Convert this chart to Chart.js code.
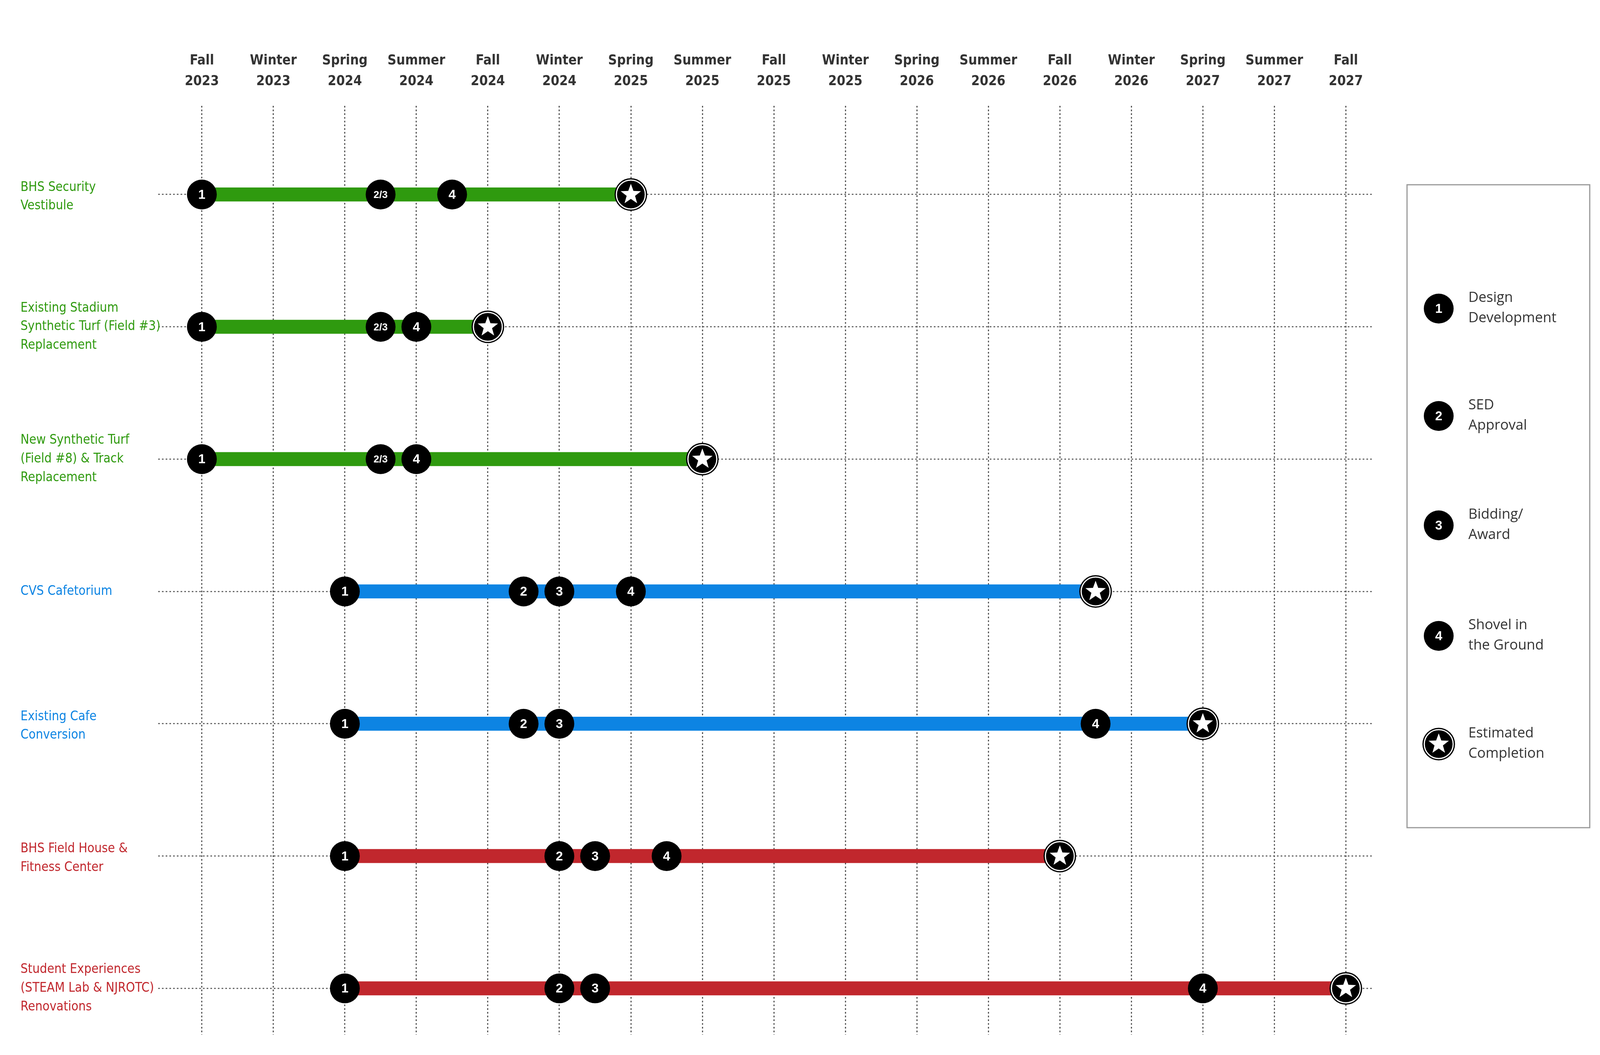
<!DOCTYPE html>
<html><head><meta charset="utf-8">
<script src="https://cdn.jsdelivr.net/npm/chart.js@4"></script>
<style>html,body{margin:0;padding:0;background:#fff;overflow:hidden}canvas{display:block}</style>
</head><body>
<canvas id="c"></canvas>
<script>
const periods = [["Fall","2023"],["Winter","2023"],["Spring","2024"],["Summer","2024"],["Fall","2024"],["Winter","2024"],["Spring","2025"],["Summer","2025"],["Fall","2025"],["Winter","2025"],["Spring","2026"],["Summer","2026"],["Fall","2026"],["Winter","2026"],["Spring","2027"],["Summer","2027"],["Fall","2027"]];
const projects = [["BHS Security","Vestibule"],["Existing Stadium","Synthetic Turf (Field #3)","Replacement"],["New Synthetic Turf","(Field #8) & Track","Replacement"],["CVS Cafetorium"],["Existing Cafe","Conversion"],["BHS Field House &","Fitness Center"],["Student Experiences","(STEAM Lab & NJROTC)","Renovations"]];
const projectColors = ["#2f9a0f","#2f9a0f","#2f9a0f","#0d84e3","#0d84e3","#c1272d","#c1272d"];
const barStart = [0,0,0,2,2,2,2];
const barEnd = [6,4,7,12.5,14,12,16];
const milestoneLabels = [["1","2/3","4","★"],["1","2/3","4","★"],["1","2/3","4","★"],["1","2","3","4","★"],["1","2","3","4","★"],["1","2","3","4","★"],["1","2","3","4","★"]];
const milestonePos = [[0,2.5,3.5,6],[0,2.5,3,4],[0,2.5,3,7],[2,4.5,5,6,12.5],[2,4.5,5,12.5,14],[2,5,5.5,6.5,12],[2,5,5.5,14,16]];
const legendSymbols = ["1","2","3","4","★"];
const legendTexts = [["Design","Development"],["SED","Approval"],["Bidding/","Award"],["Shovel in","the Ground"],["Estimated","Completion"]];

const W = window.innerWidth, H = window.innerHeight;
const cv = document.getElementById('c');
cv.width = W; cv.height = H; cv.style.width = W+'px'; cv.style.height = H+'px';
const f = W/6865, g = H/2701;
const NARROW = '"DejaVu Sans Condensed","Liberation Sans Narrow",sans-serif';

const datasets = [];
projects.forEach((p,i)=>{
  datasets.push({type:'line',data:[{x:barStart[i],y:i},{x:barEnd[i],y:i}],borderColor:projectColors[i],borderWidth:60*f,borderCapStyle:'butt',pointRadius:0,marker:false});
});
projects.forEach((p,i)=>{
  datasets.push({type:'scatter',data:milestonePos[i].map(x=>({x,y:i})),pointRadius:0,marker:true,labels:milestoneLabels[i]});
});

function star(ctx,cx,cy,ro,ri){
  ctx.beginPath();
  for(let k=0;k<10;k++){const r=k%2?ri:ro;const a=-Math.PI/2+k*Math.PI/5;ctx.lineTo(cx+r*Math.cos(a),cy+r*Math.sin(a));}
  ctx.closePath();ctx.fill();
}
function marker(ctx,x,y,lab){
  if(lab==="★"){
    ctx.fillStyle='#000';ctx.beginPath();ctx.arc(x,y,70*f,0,2*Math.PI);ctx.fill();
    ctx.strokeStyle='#fff';ctx.lineWidth=5*f;ctx.beginPath();ctx.arc(x,y,62*f,0,2*Math.PI);ctx.stroke();
    ctx.fillStyle='#fff';star(ctx,x,y,46*f,19*f);
  } else {
    ctx.fillStyle='#000';ctx.beginPath();ctx.arc(x,y,64*f,0,2*Math.PI);ctx.fill();
    ctx.fillStyle='#fff';ctx.textAlign='center';ctx.textBaseline='middle';
    ctx.font='bold '+Math.round((lab.length>1?44:56)*f)+'px "Liberation Sans", sans-serif';
    ctx.fillText(lab,x,y+3*f);
  }
}
const plug={id:'marks',afterDatasetsDraw(chart){
  const ctx=chart.ctx;
  chart.data.datasets.forEach((d,i)=>{
    if(!d.marker)return;
    chart.getDatasetMeta(i).data.forEach((pt,j)=>marker(ctx,pt.x,pt.y,d.labels[j]));
  });
},afterDraw(chart){
  const ctx=chart.ctx;
  ctx.save();
  const ys=chart.scales.y;
  ctx.textAlign='left';ctx.textBaseline='middle';
  ctx.font=Math.round(56*f)+'px '+NARROW;
  const lh=80*f;
  projects.forEach((lines,i)=>{
    const cy=ys.getPixelForValue(i)+ (lines.length===2?10*f:0);
    ctx.fillStyle=projectColors[i];
    lines.forEach((t,k)=>ctx.fillText(t,88*f,cy+(k-(lines.length-1)/2)*lh));
  });
  ctx.strokeStyle='#999';ctx.lineWidth=5*f;ctx.strokeRect(6037*f,473*g,784*f,1646*g);
  const ly=[790,1065,1345,1628,1905];
  ly.forEach((y,k)=>{
    marker(ctx,6173*f,y*g,legendSymbols[k]);
    ctx.fillStyle='#333';ctx.textAlign='left';ctx.textBaseline='middle';
    ctx.font=Math.round(60*f)+'px "Open Sans", sans-serif';
    ctx.fillText(legendTexts[k][0],6300*f,y*g-45*f);
    ctx.fillText(legendTexts[k][1],6300*f,y*g+42*f);
  });
  ctx.restore();
}};

new Chart(cv,{
  data:{datasets},
  plugins:[plug],
  options:{
    responsive:false,animation:false,
    layout:{padding:{left:679*f,right:977*f,top:0,bottom:52*g}},
    plugins:{legend:{display:false},tooltip:{enabled:false}},
    scales:{
      x:{type:'linear',position:'top',min:-0.61,max:16.37,
        afterBuildTicks:s=>{s.ticks=periods.map((p,i)=>({value:i}));},
        afterFit:s=>{s.height=271*g;},
        ticks:{callback:(v)=>periods[v],font:{family:NARROW,size:Math.round(58*f),weight:'bold',lineHeight:1.5},color:'#333',padding:36*g,maxRotation:0,autoSkip:false},
        grid:{color:'#555',lineWidth:5*f,drawTicks:false},
        border:{display:false,dash:[7*f,9*f]}},
      y:{type:'linear',reverse:true,min:-0.67,max:6.35,
        afterBuildTicks:s=>{s.ticks=projects.map((p,i)=>({value:i}));},
        afterFit:s=>{s.width=0;},
        ticks:{display:false},
        grid:{color:'#666',lineWidth:5*f,drawTicks:false},
        border:{display:false,dash:[7*f,9*f]}}
    }
  }
});
</script>
</body></html>
